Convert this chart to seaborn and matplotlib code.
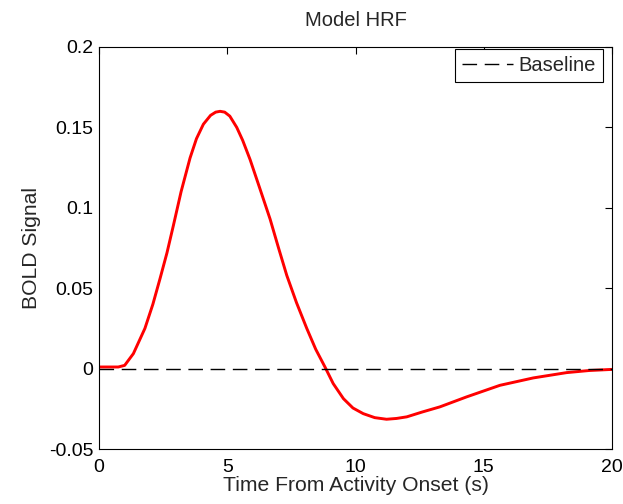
import matplotlib
matplotlib.use("Agg")
import matplotlib.pyplot as plt
import seaborn as sns
import pandas as pd

# Data
time_s = [0.0, 0.5, 0.75, 1.0, 1.34, 1.79, 2.1, 2.38, 2.65, 2.90, 3.2, 3.55, 3.8, 4.07,
          4.35, 4.55, 4.72, 4.9, 5.1, 5.37, 5.6, 5.89, 6.25, 6.67, 7.0, 7.32, 7.7, 8.10,
          8.45, 8.81, 9.13, 9.53, 9.9, 10.30, 10.75, 11.21, 11.6, 12.0, 12.6, 13.29,
          14.33, 15.63, 16.93, 18.23, 19.1, 20.0]
bold = [0.001, 0.001, 0.001, 0.002, 0.0093, 0.025, 0.040, 0.056, 0.072, 0.089, 0.110,
        0.131, 0.143, 0.152, 0.1575, 0.1595, 0.160, 0.1595, 0.157, 0.150, 0.142, 0.130,
        0.113, 0.093, 0.075, 0.058, 0.041, 0.025, 0.012, 0.001, -0.0093, -0.0187,
        -0.0245, -0.028, -0.0305, -0.0315, -0.031, -0.030, -0.027, -0.0238, -0.0176,
        -0.0104, -0.0058, -0.0025, -0.0012, -0.0005]
baseline_t = [0, 20]
baseline_v = [0, 0]

sns.set_style("white")
plt.rcParams['font.family'] = ['Liberation Sans', 'DejaVu Sans']

fig = plt.figure(figsize=(6.23, 5.04), dpi=100)
ax = fig.add_axes([99/623, 55/504, (612-99)/623, (449-47)/504])

df = pd.DataFrame({"t": time_s, "v": bold})
sns.lineplot(data=df, x="t", y="v", ax=ax, color="#ff0000", linewidth=2.1,
             sort=False, estimator=None)
bl = pd.DataFrame({"t": baseline_t, "v": baseline_v})
sns.lineplot(data=bl, x="t", y="v", ax=ax, color="black", linewidth=1.0,
             dashes=False, label="Baseline", linestyle=(0, (10.5, 5.5)))

ax.set_xlim(0, 20)
ax.set_ylim(-0.05, 0.2)
ax.set_xticks([0, 5, 10, 15, 20])
ax.set_xticklabels(["0", "5", "10", "15", "20"])
ax.set_yticks([-0.05, 0, 0.05, 0.1, 0.15, 0.2])
ax.set_yticklabels(["-0.05", "0", "0.05", "0.1", "0.15", "0.2"])
ax.tick_params(direction="in", length=5, width=0.8, top=True, right=True,
               labelsize=14, colors="black")
ax.tick_params(axis="x", pad=7.5)
ax.tick_params(axis="y", pad=4)
for s in ax.spines.values():
    s.set_visible(True)
    s.set_color("black")
    s.set_linewidth(0.8)

ax.set_title("Model HRF", fontsize=14.5, pad=15)
ax.set_xlabel("Time From Activity Onset (s)", fontsize=15.2, labelpad=0)
ax.set_ylabel("BOLD Signal", fontsize=15.2, labelpad=6)

leg = ax.legend(loc="upper right", bbox_to_anchor=(0.9825, 0.995), fontsize=14.5,
                frameon=True, fancybox=False, handlelength=2.5, borderpad=0.35,
                handletextpad=0.3, borderaxespad=0.0)
leg.get_frame().set_edgecolor("black")
leg.get_frame().set_linewidth(0.8)
leg.get_frame().set_alpha(1)

fig.savefig("out.png", dpi=100, facecolor="white")
